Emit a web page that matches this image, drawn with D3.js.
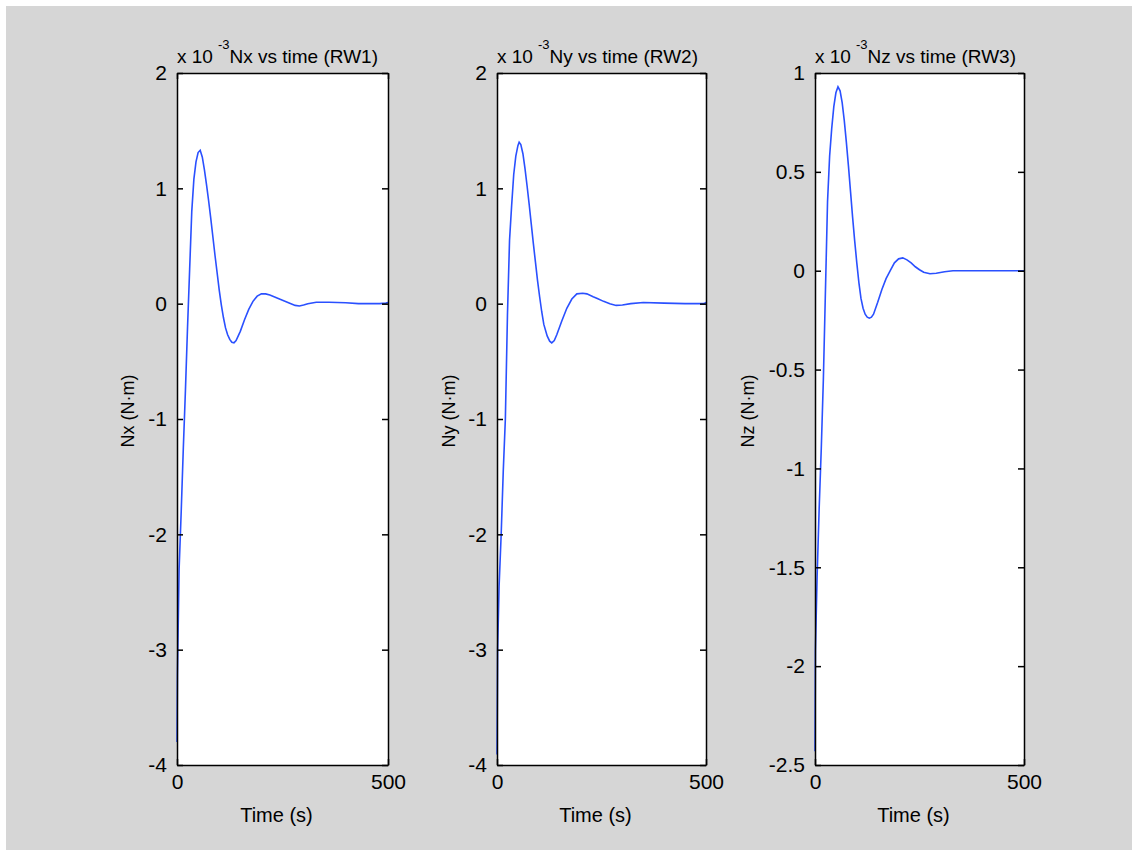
<!DOCTYPE html>
<html><head><meta charset="utf-8">
<script src="https://cdn.jsdelivr.net/npm/d3@7"></script>
<style>
html,body{margin:0;padding:0;background:#fff;}
svg text{font-family:"Liberation Sans",Arial,sans-serif;fill:#000;}
</style></head>
<body>
<svg id="chart" width="1132" height="850"></svg>
<script>
// ---- data (values in units of 1e-3 N·m) ----
const timeNx = [0,1,5,10,15,20,25,30,35,40,45,50,55,60,65,70,75,80,85,90,95,100,105,110,115,120,125,130,135,140,150,160,170,180,190,200,210,220,230,240,250,260,270,280,290,300,310,330,360,400,430,480,495,500];
const valNx  = [-3.80,-3.22,-2.3,-1.8,-1.25,-0.75,-0.2,0.3,0.8,1.08,1.23,1.31,1.33,1.27,1.16,1.03,0.89,0.74,0.58,0.42,0.27,0.12,-0.01,-0.12,-0.21,-0.27,-0.31,-0.335,-0.34,-0.32,-0.24,-0.14,-0.05,0.02,0.065,0.085,0.085,0.075,0.06,0.045,0.03,0.015,0.0,-0.015,-0.02,-0.012,0.0,0.012,0.012,0.008,0.0,0.0,0.005,0.01];

const timeNy = [0,1.5,5,10,15,20,25,30,35,40,45,50,53,57,62,67,72,77,82,87,92,97,102,107,112,120,126,131,137,143,155,167,179,191,205,215,230,240,255,270,285,300,320,350,400,450,495,500];
const valNy  = [-3.91,-3.0,-2.45,-2.0,-1.45,-1.0,-0.1,0.55,0.85,1.12,1.28,1.37,1.40,1.38,1.30,1.17,1.02,0.86,0.69,0.52,0.36,0.2,0.06,-0.07,-0.18,-0.28,-0.325,-0.34,-0.32,-0.27,-0.15,-0.04,0.04,0.085,0.09,0.085,0.06,0.045,0.02,0.0,-0.015,-0.012,0.0,0.01,0.005,0.0,0.0,0.01];

const timeNz = [0,1,5,10,15,20,25,30,35,40,45,50,55,60,65,70,75,80,85,90,95,100,105,110,115,120,125,130,135,140,150,160,170,180,190,200,210,220,230,240,250,260,275,290,310,330,400,500];
const valNz  = [-2.43,-1.92,-1.55,-1.2,-0.9,-0.55,-0.1,0.35,0.58,0.72,0.83,0.9,0.93,0.91,0.85,0.76,0.65,0.53,0.40,0.27,0.15,0.04,-0.06,-0.14,-0.19,-0.22,-0.235,-0.24,-0.235,-0.22,-0.16,-0.095,-0.04,0.0,0.04,0.06,0.065,0.055,0.04,0.02,0.005,-0.008,-0.015,-0.013,-0.005,0.0,0.0,0.0];

const xTicks = [0, 500];
const yTicksNx = [-4,-3,-2,-1,0,1,2];
const yTicksNy = [-4,-3,-2,-1,0,1,2];
const yTicksNz = [-2.5,-2,-1.5,-1,-0.5,0,0.5,1];

const titles = ["Nx vs time (RW1)", "Ny vs time (RW2)", "Nz vs time (RW3)"];
const yLabels = ["Nx (N·m)", "Ny (N·m)", "Nz (N·m)"];
const xLabel = "Time (s)";

// ---- layout ----
const panels = [
  {t: timeNx, v: valNx, ticks: yTicksNx, dom: [-4,2], left: 177, right: 388, ylab: 134},
  {t: timeNy, v: valNy, ticks: yTicksNy, dom: [-4,2], left: 497, right: 706, ylab: 455},
  {t: timeNz, v: valNz, ticks: yTicksNz, dom: [-2.5,1], left: 815, right: 1024, ylab: 754}
];
const plotTop = 73, plotBottom = 765;

const svg = d3.select("#chart");
svg.append("rect").attr("x",6).attr("y",6).attr("width",1126).attr("height",844).attr("fill","#d6d6d6");

const fmt = v => String(v);

panels.forEach((p, i) => {
  const x = d3.scaleLinear().domain([0,500]).range([p.left, p.right]);
  const y = d3.scaleLinear().domain(p.dom).range([plotBottom, plotTop]);
  const g = svg.append("g");
  g.append("rect").attr("x",p.left).attr("y",plotTop).attr("width",p.right-p.left).attr("height",plotBottom-plotTop).attr("fill","#fff");

  const pts = p.t.map((tt,k)=>[tt,p.v[k]]);
  g.append("path").datum(pts)
    .attr("fill","none").attr("stroke","#2a50ff").attr("stroke-width",1.6)
    .attr("d", d3.line().x(d=>x(d[0])).y(d=>y(d[1])));

  // axes (inward ticks, mirrored)
  const yl = g.append("g").attr("transform",`translate(${p.left},0)`)
    .call(d3.axisLeft(y).tickValues(p.ticks).tickSizeInner(-6).tickSizeOuter(0).tickPadding(10).tickFormat(fmt));
  const yr = g.append("g").attr("transform",`translate(${p.right},0)`)
    .call(d3.axisRight(y).tickValues(p.ticks).tickSizeInner(-6).tickSizeOuter(0).tickFormat(""));
  const xb = g.append("g").attr("transform",`translate(0,${plotBottom})`)
    .call(d3.axisBottom(x).tickValues(xTicks).tickSizeInner(-6).tickSizeOuter(0).tickPadding(9).tickFormat(fmt));
  const xt = g.append("g").attr("transform",`translate(0,${plotTop})`)
    .call(d3.axisTop(x).tickValues(xTicks).tickSizeInner(-6).tickSizeOuter(0).tickFormat(""));
  [yl,yr,xb,xt].forEach(a=>{
    a.selectAll("path,line").attr("stroke","#000").attr("stroke-width",1.5);
    a.selectAll("text").attr("font-size",21).attr("font-family","Liberation Sans, Arial, sans-serif").attr("fill","#000");
  });

  // exponent + title
  const tt = g.append("text").attr("x",p.left).attr("y",63).attr("font-size",19);
  tt.append("tspan").text("x 10");
  tt.append("tspan").attr("dy",-14).attr("dx",5).attr("font-size",13).text("-3");
  tt.append("tspan").attr("dy",14).attr("dx",0).text(titles[i]);

  g.append("text").attr("transform",`translate(${p.ylab},${(plotTop+plotBottom)/2 - 8}) rotate(-90)`)
    .attr("text-anchor","middle").attr("font-size",18).text(yLabels[i]);
  g.append("text").attr("x",(p.left+p.right)/2 - 6).attr("y",822)
    .attr("text-anchor","middle").attr("font-size",20).text(xLabel);
});
</script>
</body></html>
